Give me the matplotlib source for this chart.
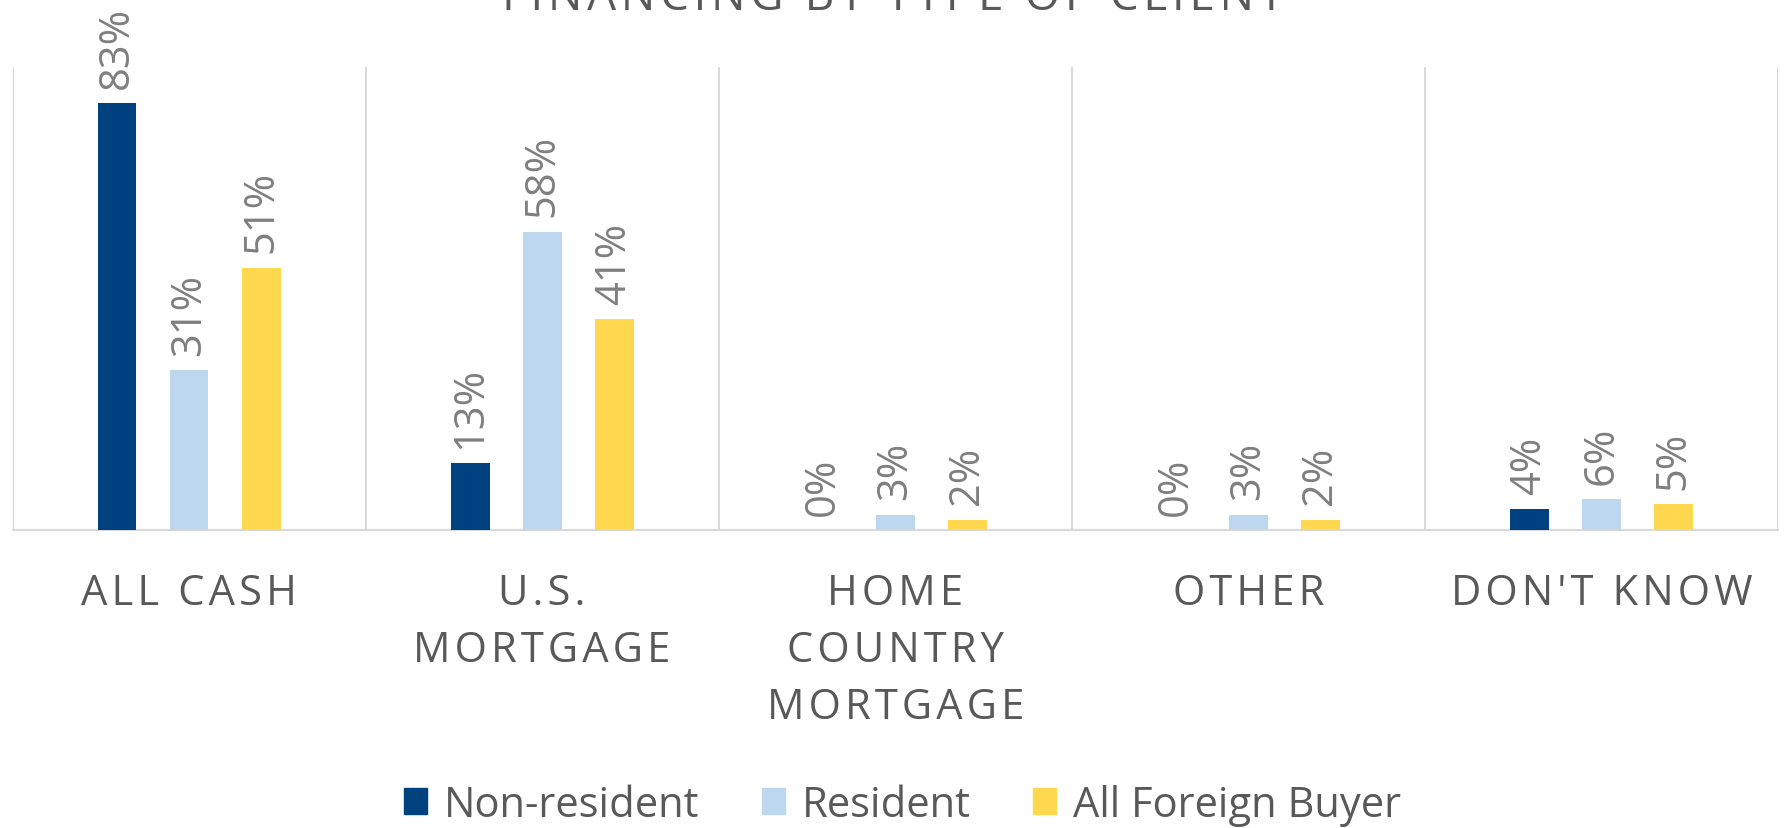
import numpy as np
import matplotlib.pyplot as plt
from matplotlib.patches import Patch

# Datos
categorias = ['ALL CASH', 'U.S.\nMORTGAGE', 'HOME\nCOUNTRY\nMORTGAGE', 'OTHER', "DON'T KNOW"]
series = ['Non-resident', 'Resident', 'All Foreign Buyer']
non_resident = [83, 13, 0, 0, 4]
resident = [31, 58, 3, 3, 6]
all_foreign = [51, 41, 2, 2, 5]
titulo = 'FINANCING BY TYPE OF CLIENT'

colores = ['#00427F', '#BDD7EE', '#FFD84F']
gris_txt = '#595959'
gris_lbl = '#7F7F7F'
gris_lin = '#D9D9D9'

plt.rcParams['font.family'] = ['Open Sans', 'DejaVu Sans']


def espaciar(s):
    # espaciado entre letras con hair space, línea por línea
    return '\n'.join('\u200a'.join(linea) for linea in s.split('\n'))


fig = plt.figure(figsize=(17.87, 8.29), dpi=100)
ax = fig.add_axes([0.007, 0.3595, 0.988, 0.5585])

x = np.arange(len(categorias))
ancho = 0.11
offsets = [-0.204, 0.0, 0.204]

for vals, off, c in zip([non_resident, resident, all_foreign], offsets, colores):
    barras = ax.bar(x + off, vals, width=ancho, color=c, zorder=3)
    for b, v in zip(barras, vals):
        ax.annotate(f'{v}%', (b.get_x() + b.get_width() / 2, b.get_height()),
                    xytext=(0, 11), textcoords='offset points',
                    rotation=90, ha='center', va='bottom',
                    fontsize=30, color=gris_lbl, annotation_clip=False)

# líneas verticales entre categorías
for xb in np.arange(-0.5, len(categorias), 1.0):
    ax.axvline(xb, color=gris_lin, linewidth=1.5, zorder=1)

ax.set_xlim(-0.5, len(categorias) - 0.5)
ax.set_ylim(0, 90)
ax.set_yticks([])
ax.set_xticks(x)
ax.set_xticklabels([espaciar(c) for c in categorias], fontsize=30, color=gris_txt,
                   linespacing=1.48)
ax.tick_params(axis='x', length=0, pad=30)
for s in ['top', 'right', 'left']:
    ax.spines[s].set_visible(False)
ax.spines['bottom'].set_color(gris_lin)
ax.spines['bottom'].set_linewidth(1.5)

fig.text(0.5, 1 - 10 / 829, espaciar(titulo), ha='center', va='baseline',
         fontsize=33, color=gris_txt)

handles = [Patch(color=c, label=s) for c, s in zip(colores, series)]
fig.legend(handles=handles, loc='center', bbox_to_anchor=(0.505, 0.028), ncol=3,
           frameon=False, fontsize=30, labelcolor=gris_txt,
           handlelength=0.55, handleheight=0.55, handletextpad=0.4,
           columnspacing=1.5)

plt.savefig('out.png', dpi=100)
